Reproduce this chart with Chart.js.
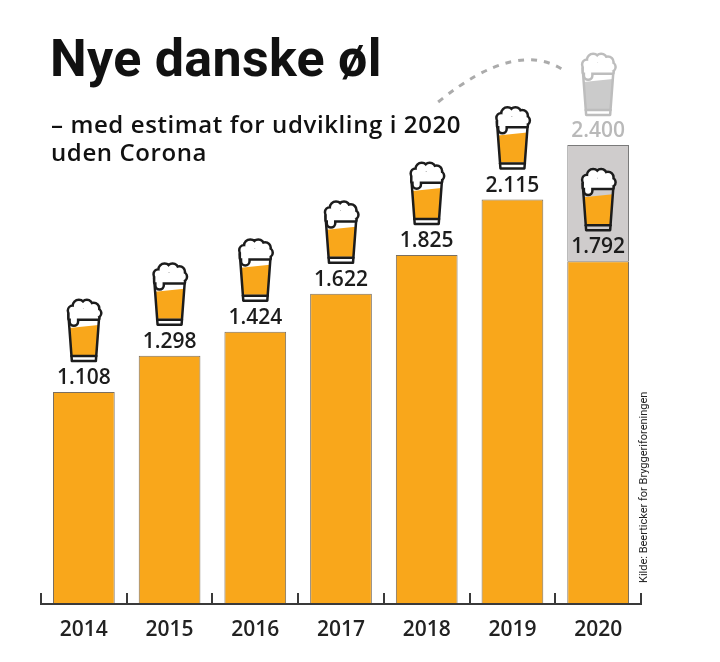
<!DOCTYPE html>
<html>
<head>
<meta charset="utf-8">
<script src="https://cdn.jsdelivr.net/npm/chart.js@4.4.1/dist/chart.umd.min.js"></script>
<style>
  html, body { margin: 0; padding: 0; background: #fff; }
  #wrap { position: relative; width: 720px; height: 662px; overflow: hidden; background: #fff; }
  #c { position: absolute; left: 0; top: 0; }
  .title { position: absolute; left: 50px; top: 33px; font-family: Roboto, sans-serif; font-weight: 700; font-size: 52px; line-height: 52px; color: #111; white-space: nowrap; letter-spacing: 0.3px; }
  .sub { position: absolute; left: 51px; top: 110px; font-family: "Open Sans", sans-serif; font-weight: 600; font-size: 24px; line-height: 28px; color: #111; white-space: nowrap; letter-spacing: 0.6px; }
  .src { position: absolute; left: 637px; top: 583px; transform-origin: 0 0; transform: rotate(-90deg); font-family: Roboto, sans-serif; font-size: 11px; line-height: 13px; color: #222; white-space: nowrap; }
</style>
</head>
<body>
<div id="wrap">
  <canvas id="c" width="720" height="662"></canvas>
  <div class="title">Nye danske øl</div>
  <div class="sub">– med estimat for udvikling i 2020<br>uden Corona</div>
  <div class="src">Kilde: Beerticker for Bryggeriforeningen</div>
</div>
<script>
// ---- data ----
const years = ['2014', '2015', '2016', '2017', '2018', '2019', '2020'];
const newBeers = [1108, 1298, 1424, 1622, 1825, 2115, 1792];
const estimateWithoutCorona = [null, null, null, null, null, null, 2400];
const yMax = 2400;

// ---- styles ----
const ORANGE = '#F9A71B';
const GREY_BAR = '#CFCCCC';
const INK = '#1c1c1c';
const LABEL_FONT = '600 21px "Open Sans", sans-serif';

const estimateExtra = estimateWithoutCorona.map((v, i) => v == null ? null : v - newBeers[i]);

function fmt(n) {
  const t = Math.floor(n / 1000), r = n % 1000;
  return t > 0 ? t + '.' + String(r).padStart(3, '0') : String(r);
}

function drawIcon(ctx, cx, ty, stroke, beer) {
  ctx.save();
  ctx.translate(cx, ty);
  const lw = 2.5;
  const gx = y => 15.5 - (y - 13) * 3.5 / 47;
  // beer
  ctx.fillStyle = beer;
  ctx.beginPath();
  ctx.moveTo(-gx(27), 27);
  ctx.quadraticCurveTo(0, 25.5, gx(24), 24);
  ctx.lineTo(gx(54), 54);
  ctx.lineTo(-gx(54), 54);
  ctx.closePath();
  ctx.fill();
  // glass
  ctx.strokeStyle = stroke;
  ctx.lineWidth = lw;
  ctx.lineJoin = 'round';
  ctx.lineCap = 'round';
  ctx.beginPath();
  ctx.moveTo(-15.5, 13); ctx.lineTo(-12, 60); ctx.lineTo(12, 60); ctx.lineTo(15.5, 13);
  ctx.stroke();
  ctx.beginPath();
  ctx.moveTo(-gx(55), 55); ctx.lineTo(gx(55), 55);
  ctx.stroke();
  // foam (union outline)
  ctx.beginPath();
  [[-11, 9.5, 3.8], [-5, 5, 5], [3, 4.6, 4.6], [9.8, 7.2, 4.4], [12.8, 12, 3.4]].forEach(([x, y, r]) => {
    ctx.moveTo(x + r, y);
    ctx.arc(x, y, r, 0, Math.PI * 2);
  });
  ctx.rect(-14.2, 8, 28.4, 9.5);
  ctx.moveTo(-13, 10); ctx.lineTo(-7, 10); ctx.lineTo(-7, 20.5);
  ctx.arc(-10, 20.5, 3, 0, Math.PI);
  ctx.closePath();
  ctx.lineWidth = lw * 2;
  ctx.stroke();
  ctx.fillStyle = '#fff';
  ctx.fill();
  ctx.restore();
}

const decorPlugin = {
  id: 'decor',
  afterDatasetsDraw(chart) {
    const ctx = chart.ctx;
    const area = chart.chartArea;
    const m0 = chart.getDatasetMeta(0);
    const m1 = chart.getDatasetMeta(1);
    ctx.save();
    // axis line and inner ticks
    ctx.strokeStyle = '#3a3a3a';
    ctx.lineWidth = 2;
    ctx.beginPath();
    ctx.moveTo(area.left, area.bottom);
    ctx.lineTo(area.right, area.bottom);
    const n = years.length;
    const step = (area.right - area.left) / n;
    for (let i = 0; i <= n; i++) {
      const x = Math.round(area.left + i * step);
      ctx.moveTo(x, area.bottom + 1);
      ctx.lineTo(x, area.bottom - 11);
    }
    ctx.stroke();

    ctx.font = LABEL_FONT;
    ctx.textAlign = 'center';
    ctx.textBaseline = 'alphabetic';
    // ghost estimate
    m1.data.forEach((bar, i) => {
      if (estimateWithoutCorona[i] == null) return;
      const top = bar.y;
      const cx = bar.x;
      ctx.fillStyle = '#B9B9B9';
      ctx.fillText(fmt(estimateWithoutCorona[i]), cx, top - 8);
      drawIcon(ctx, cx, top - 90, '#BDBDBD', '#CBCBCB');
      // dashed arc
      ctx.save();
      ctx.strokeStyle = '#ABABAB';
      ctx.lineWidth = 3;
      ctx.setLineDash([6, 7]);
      ctx.beginPath();
      ctx.moveTo(cx - 160, top - 43);
      ctx.quadraticCurveTo(cx - 80, top - 108, cx - 32, top - 73);
      ctx.stroke();
      ctx.restore();
    });
    // actual values
    m0.data.forEach((bar, i) => {
      const top = bar.y;
      const cx = bar.x;
      ctx.fillStyle = INK;
      ctx.fillText(fmt(newBeers[i]), cx, top - 8);
      drawIcon(ctx, cx, top - 91, INK, ORANGE);
    });
    ctx.restore();
  }
};

new Chart(document.getElementById('c'), {
  type: 'bar',
  data: {
    labels: years,
    datasets: [
      {
        label: 'Nye danske øl',
        data: newBeers,
        backgroundColor: ORANGE,
        borderColor: '#7a6f60',
        borderWidth: 1,
        borderSkipped: false,
        barPercentage: 0.72,
        categoryPercentage: 1.0
      },
      {
        label: 'Estimat uden Corona',
        data: estimateExtra,
        backgroundColor: GREY_BAR,
        borderColor: '#7a7a7a',
        borderWidth: 1,
        borderSkipped: 'bottom',
        barPercentage: 0.72,
        categoryPercentage: 1.0
      }
    ]
  },
  options: {
    responsive: false,
    animation: false,
    layout: { padding: { left: 41, right: 79, top: 145, bottom: 0 } },
    plugins: { legend: { display: false }, tooltip: { enabled: false }, title: { display: false } },
    scales: {
      x: {
        stacked: true,
        grid: { display: false },
        border: { display: false },
        ticks: { color: '#222', font: { family: '"Open Sans"', size: 21, weight: '600' }, padding: 5, maxRotation: 0 },
        afterFit(scale) { scale.height = 58; }
      },
      y: {
        stacked: true,
        display: false,
        min: 0,
        max: yMax
      }
    }
  },
  plugins: [decorPlugin]
});
</script>
</body>
</html>
